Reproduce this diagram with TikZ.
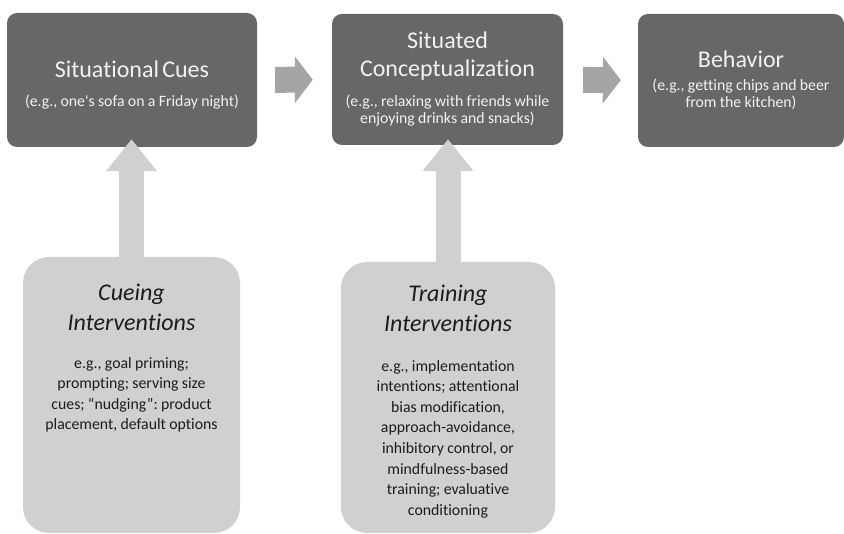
\documentclass[tikz,border=0pt]{standalone}
\usepackage{fontspec}
\setmainfont{Carlito}[Ligatures={TeX,NoCommon}]
\usetikzlibrary{positioning}
\usetikzlibrary{arrows.meta}
\frenchspacing

\definecolor{darkbox}{RGB}{103,103,103}
\definecolor{lightbox}{RGB}{208,208,208}
\definecolor{flowgray}{RGB}{165,165,165}
\definecolor{toptext}{RGB}{242,242,242}
\definecolor{lowtext}{RGB}{28,28,28}

\newcommand{\toptitle}{\fontsize{24}{28}\selectfont}
\newcommand{\topsub}{\fontsize{15.8}{17}\selectfont}
\newcommand{\lowtitle}{\fontsize{24}{30}\selectfont\itshape}
\newcommand{\lowbody}{\fontsize{15.8}{20.6}\selectfont}

\begin{document}
\begin{tikzpicture}
		[x=1pt, y=-1pt,
		stage/.style = {fill=darkbox, rounded corners=10pt, text=toptext, align=center, inner sep=0pt},
		lever/.style = {fill=lightbox, rounded corners=26pt, inner sep=0pt},
		levertext/.style = {text=lowtext, text width=205pt, align=center, inner sep=0pt},
		flow/.style = {draw=flowgray, line width=26pt, -{Triangle[length=18pt, width=46pt]}},
		push/.style = {draw=lightbox, line width=25pt, -{Triangle[length=32pt, width=49pt]}}]
	\useasboundingbox (0,0) rectangle (844,534);
	\node[stage, minimum width=250pt, minimum height=134pt, text width=240pt] (cues) at (132,80)
		{{\toptitle \rule{0pt}{26pt}Situational Cues\par}\vspace{12pt}{\topsub (e.g., one\textquotesingle s sofa on a Friday night)\par}};
	\node[stage, minimum width=231pt, minimum height=131pt, text width=225pt] (concept) at (447.5,79.5)
		{{\toptitle Situated\\Conceptualization\par}\vspace{13pt}{\topsub (e.g., relaxing with friends while\\enjoying drinks and snacks)\par}};
	\node[stage, minimum width=206pt, minimum height=133pt, text width=200pt] (behavior) at (741,80.5)
		{{\toptitle Behavior\par}\vspace{6pt}{\topsub (e.g., getting chips and beer\\from the kitchen)\par}};
	\node[lever, minimum width=217pt, minimum height=276pt] (cueing) at (131.5,395) {};
	\node[lever, minimum width=214pt, minimum height=271pt] (training) at (448,397.5) {};
	\node[levertext, below=27pt of cueing.north] (cueingtext)
		{{\lowtitle Cueing\\Interventions\par}\vspace{17pt}{\lowbody e.g., goal priming;\\prompting; serving size\\cues; “nudging”: product\\placement, default options\par}};
	\node[levertext, below=23pt of training.north] (trainingtext)
		{{\lowtitle Training\\Interventions\par}\vspace{19pt}{\lowbody e.g., implementation\\intentions; attentional\\bias modification,\\approach-avoidance,\\inhibitory control, or\\mindfulness-based\\training; evaluative\\conditioning\par}};
	\draw[flow, shorten <=18pt, shorten >=19pt] (cues) -- (concept);
	\draw[flow, shorten <=20pt, shorten >=17pt] (concept) -- (behavior);
	\draw[push, shorten >=-8pt] (cueing.north) -- (cueing.north |- cues.south);
	\draw[push, shorten >=-6pt] (training.north) -- (training.north |- concept.south);
\end{tikzpicture}
\end{document}
